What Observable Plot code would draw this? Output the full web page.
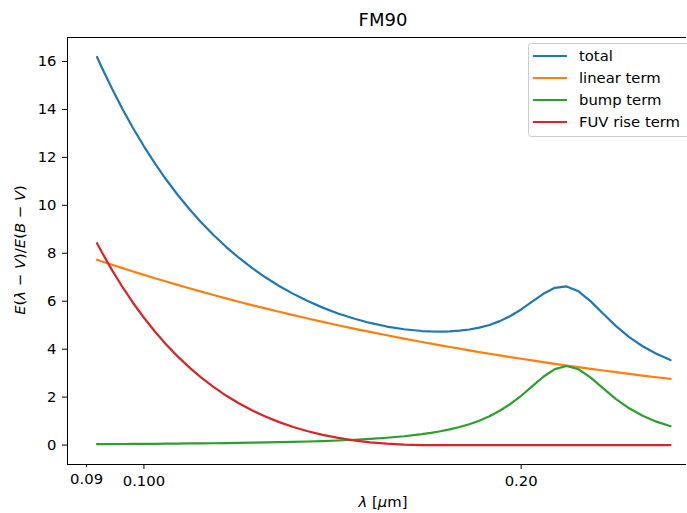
<!DOCTYPE html>
<html>
<head>
<meta charset="utf-8">
<script src="https://cdn.jsdelivr.net/npm/d3@7"></script>
<script src="https://cdn.jsdelivr.net/npm/@observablehq/plot@0.6"></script>
<style>
  body { margin: 0; background: #fff; }
  #chart { width: 687px; height: 513px; }
</style>
</head>
<body>
<div id="chart"></div>
<script>
// wavenumbers x [1/micron]; wavelength = 1/x
const wavenumbers = [3.8,3.9,4.0,4.1,4.2,4.3,4.4,4.5,4.6,4.7,4.8,4.9,5.0,5.1,5.2,5.3,5.4,5.5,5.6,5.7,5.8,5.9,6.0,
  6.2,6.4,6.6,6.8,7.0,7.2,7.4,7.6,7.8,8.0,8.2,8.4,8.6,8.8,9.0,9.2,9.4,9.6,9.8,10.0,10.2,10.4,10.6,10.8,10.9];
const totalTerm = [3.546,3.807,4.122,4.504,4.960,5.475,5.995,6.414,6.616,6.559,6.310,5.980,5.657,5.384,5.170,5.011,4.897,4.820,4.772,4.745,4.736,4.740,4.757,
  4.830,4.944,5.094,5.278,5.490,5.733,6.006,6.307,6.637,6.998,7.390,7.814,8.270,8.761,9.286,9.847,10.442,11.077,11.749,12.462,13.215,14.011,14.849,15.731,16.189];
const linearTerm = [2.76,2.83,2.90,2.97,3.04,3.11,3.18,3.25,3.32,3.39,3.46,3.53,3.60,3.67,3.74,3.81,3.88,3.95,4.02,4.09,4.16,4.23,4.30,
  4.44,4.58,4.72,4.86,5.00,5.14,5.28,5.42,5.56,5.70,5.84,5.98,6.12,6.26,6.40,6.54,6.68,6.82,6.96,7.10,7.24,7.38,7.52,7.66,7.73];
const bumpTerm = [0.786,0.977,1.222,1.534,1.920,2.365,2.815,3.164,3.296,3.169,2.850,2.450,2.057,1.714,1.430,1.201,1.017,0.870,0.752,0.655,0.576,0.510,0.455,
  0.369,0.306,0.258,0.222,0.192,0.169,0.150,0.134,0.120,0.109,0.099,0.091,0.084,0.077,0.072,0.067,0.062,0.058,0.054,0.051,0.048,0.046,0.043,0.041,0.040];
const fuvTerm = [0,0,0,0,0,0,0,0,0,0,0,0,0,0,0,0,0,0,0,0,0,0,0.002,
  0.021,0.058,0.116,0.196,0.298,0.424,0.576,0.753,0.957,1.189,1.451,1.743,2.066,2.424,2.814,3.240,3.700,4.199,4.735,5.311,5.927,6.585,7.286,8.030,8.419];

const seriesNames = ["total", "linear term", "bump term", "FUV rise term"];
const seriesColors = ["#1f77b4", "#ff7f0e", "#2ca02c", "#d62728"];
const seriesValues = [totalTerm, linearTerm, bumpTerm, fuvTerm];

const xMajorTicks = [0.1, 0.2];
const xMajorLabels = ["0.100", "0.20"];
const xMinorTicks = [0.09];
const xMinorLabels = ["0.09"];
const yTicks = [0, 2, 4, 6, 8, 10, 12, 14, 16];

const xDomain = [0.0869, 0.271];
const yDomain = [-0.81, 17.0];

const rows = [];
seriesValues.forEach((vals, s) => {
  wavenumbers.forEach((k, i) => rows.push({lam: 1 / k, v: vals[i], series: seriesNames[s]}));
});

const W = 687, H = 513, mL = 67, mR = 1, mT = 37, mB = 49;
const FS = 14.8;

const plot = Plot.plot({
  width: W, height: H,
  marginLeft: mL, marginRight: mR, marginTop: mT, marginBottom: mB,
  style: {fontFamily: "DejaVu Sans", fontSize: FS + "px", color: "#000", background: "#fff"},
  x: {type: "log", domain: xDomain},
  y: {domain: yDomain},
  color: {domain: seriesNames, range: seriesColors},
  marks: [
    ...seriesNames.map(name => Plot.line(rows.filter(r => r.series === name),
      {x: "lam", y: "v", stroke: "series", strokeWidth: 2.2})),
    Plot.axisX({ticks: xMajorTicks, tickFormat: d => xMajorLabels[xMajorTicks.indexOf(d)], tickSize: 5, tickPadding: 6, label: null, fontSize: FS}),
    Plot.axisX({ticks: xMinorTicks, tickFormat: d => xMinorLabels[xMinorTicks.indexOf(d)], tickSize: 3, tickPadding: 5.5, label: null, fontSize: FS}),
    Plot.axisY({ticks: yTicks, tickFormat: d => String(d), tickSize: 5, tickPadding: 6, label: null, fontSize: FS}),
    Plot.ruleX([xDomain[0]], {stroke: "#000", strokeWidth: 1}),
    Plot.ruleY([yDomain[0]], {stroke: "#000", strokeWidth: 1}),
    Plot.ruleY([yDomain[1]], {stroke: "#000", strokeWidth: 1})
  ]
});

document.getElementById("chart").appendChild(plot);

const svg = d3.select(plot);
const font = "DejaVu Sans";
// title
svg.append("text").attr("x", 383).attr("y", 26).attr("text-anchor", "middle")
  .attr("font-family", font).attr("font-size", 18).attr("fill", "#000").text("FM90");
// x label
const xl = svg.append("text").attr("x", 383).attr("y", 507).attr("text-anchor", "middle")
  .attr("font-family", font).attr("font-size", FS).attr("fill", "#000");
xl.append("tspan").attr("font-style", "italic").text("λ");
xl.append("tspan").text(" [");
xl.append("tspan").attr("font-style", "italic").text("μ");
xl.append("tspan").text("m]");
// y label
const yl = svg.append("text").attr("transform", "translate(25,250) rotate(-90)").attr("text-anchor", "middle")
  .attr("font-family", font).attr("font-size", FS).attr("fill", "#000");
[["E", true], ["(", false], ["λ", true], [" − ", false], ["V", true], [")/", false], ["E", true], ["(", false], ["B", true], [" − ", false], ["V", true], [")", false]]
  .forEach(([t, it]) => { const s = yl.append("tspan").text(t); if (it) s.attr("font-style", "italic"); });

// legend
const lg = svg.append("g");
lg.append("rect").attr("x", 528.5).attr("y", 43.5).attr("width", 170).attr("height", 93).attr("rx", 3)
  .attr("fill", "#fff").attr("fill-opacity", 0.8).attr("stroke", "#cccccc");
seriesNames.forEach((name, i) => {
  const y = 56 + i * 22;
  lg.append("line").attr("x1", 533).attr("x2", 567).attr("y1", y).attr("y2", y)
    .attr("stroke", seriesColors[i]).attr("stroke-width", 2.2);
  lg.append("text").attr("x", 579).attr("y", y + 5).attr("text-anchor", "start")
    .attr("font-family", font).attr("font-size", FS).attr("fill", "#000").text(name);
});
</script>
</body>
</html>
